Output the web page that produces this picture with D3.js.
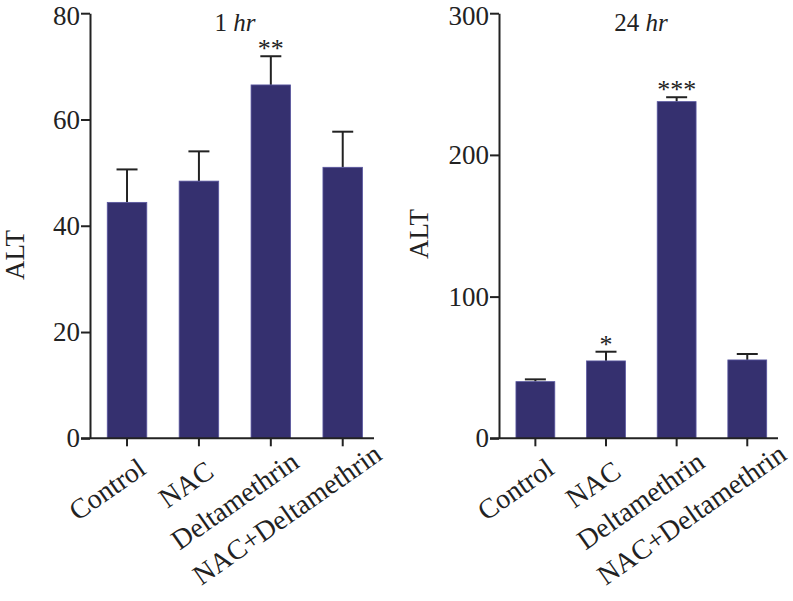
<!DOCTYPE html>
<html>
<head>
<meta charset="utf-8">
<script src="https://cdn.jsdelivr.net/npm/d3@7"></script>
<style>
  html, body { margin: 0; padding: 0; background: #fff; }
  svg { display: block; }
  text { font-family: "Liberation Serif", "Times New Roman", serif; fill: #222; }
</style>
</head>
<body>
<svg id="chart" width="793" height="601"></svg>
<script>
// ---- data ----
const categories = ["Control", "NAC", "Deltamethrin", "NAC+Deltamethrin"];
const alt1hMean = [44.4, 48.4, 66.5, 51.0];
const alt1hErr  = [6.2, 5.6, 5.4, 6.7];
const alt1hSig  = ["", "", "**", ""];
const alt24hMean = [40.0, 54.6, 237.6, 55.3];
const alt24hErr  = [1.6, 6.5, 3.1, 4.2];
const alt24hSig  = ["", "*", "***", ""];
const ticks1h  = [0, 20, 40, 60, 80];
const ticks24h = [0, 100, 200, 300];
const yLabel = "ALT";

const svg = d3.select("#chart");
const barColor = "#35306f";
const inkColor = "#222";

function panel(opt) {
  const g = svg.append("g");
  const y = d3.scaleLinear().domain([0, opt.max]).range([438.3, 13.2]);
  const x = d3.scaleBand().domain(categories).range([opt.axisX, opt.xEnd])
    .paddingInner(0.45).paddingOuter(0.2).align(0.6);

  // error bars (above bars)
  const eg = g.append("g").attr("stroke", inkColor).attr("stroke-width", 2).attr("fill", "none");
  categories.forEach((c, i) => {
    const cx = x(c) + x.bandwidth() / 2;
    const top = y(opt.mean[i] + opt.err[i]);
    eg.append("line").attr("x1", cx).attr("x2", cx).attr("y1", y(opt.mean[i])).attr("y2", top);
    eg.append("line").attr("x1", cx - 10.5).attr("x2", cx + 10.5).attr("y1", top).attr("y2", top);
  });

  // bars
  g.append("g").selectAll("rect").data(categories).join("rect")
    .attr("x", d => x(d))
    .attr("width", x.bandwidth())
    .attr("y", (d, i) => y(opt.mean[i]))
    .attr("height", (d, i) => y(0) - y(opt.mean[i]))
    .attr("fill", barColor)
    .attr("stroke", "#5a57a0")
    .attr("stroke-width", 0.8);

  // significance marks
  g.append("g").selectAll("text").data(categories).join("text")
    .attr("x", d => x(d) + x.bandwidth() / 2)
    .attr("y", (d, i) => y(opt.mean[i] + opt.err[i]) + 1)
    .attr("text-anchor", "middle")
    .style("font-size", "26px")
    .text((d, i) => opt.sig[i]);

  // y axis
  const ya = g.append("g").attr("transform", `translate(${opt.axisX},0)`)
    .call(d3.axisLeft(y).tickValues(opt.ticks).tickSize(9).tickPadding(1).tickSizeOuter(0));
  ya.select(".domain").attr("stroke", inkColor).attr("stroke-width", 2);
  ya.selectAll(".tick line").attr("stroke", inkColor).attr("stroke-width", 2);
  ya.selectAll(".tick text").style("font-size", "27px").style("font-family", "Liberation Serif").attr("fill", inkColor)
    .attr("dy", d => d === opt.max ? "0.42em" : "0.32em");

  // x axis
  const xa = g.append("g").attr("transform", `translate(0,${y(0)})`)
    .call(d3.axisBottom(x).tickSize(8).tickSizeOuter(0));
  xa.select(".domain").remove();
  xa.append("line").attr("x1", opt.axisX - 9).attr("x2", opt.xEnd).attr("y1", 0).attr("y2", 0)
    .attr("stroke", inkColor).attr("stroke-width", 2);
  xa.selectAll(".tick line").attr("stroke", inkColor).attr("stroke-width", 2);
  xa.selectAll(".tick text")
    .style("font-size", "28px").style("font-family", "Liberation Serif").attr("fill", inkColor)
    .attr("text-anchor", "start")
    .attr("dy", 0)
    .attr("y", 0)
    .each(function () {
      const L = this.getComputedTextLength();
      d3.select(this).attr("x", -0.82 * L).attr("transform", "translate(8,43) rotate(-35)");
    });

  // y label
  g.append("text")
    .attr("transform", `translate(${opt.labelX},${opt.labelY}) rotate(-90)`)
    .attr("text-anchor", "middle")
    .style("font-size", "27px")
    .text(yLabel);

  // title
  const t = g.append("text").attr("x", opt.titleX).attr("y", 31)
    .attr("text-anchor", "middle").style("font-size", "25px");
  t.append("tspan").text(opt.titleNum + " ");
  t.append("tspan").style("font-style", "italic").text("hr");
}

panel({ max: 80, axisX: 90, xEnd: 374, mean: alt1hMean, err: alt1hErr, sig: alt1hSig,
        ticks: ticks1h, labelX: 24, labelY: 255, titleX: 235, titleNum: "1" });
panel({ max: 300, axisX: 499, xEnd: 778, mean: alt24hMean, err: alt24hErr, sig: alt24hSig,
        ticks: ticks24h, labelX: 428, labelY: 234, titleX: 641, titleNum: "24" });
</script>
</body>
</html>
